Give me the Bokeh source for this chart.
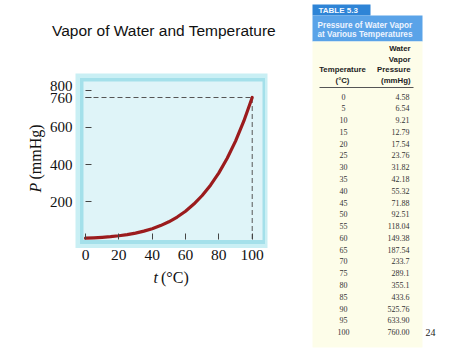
import math
from bokeh.plotting import figure
from bokeh.models import Range1d, LinearAxis, FixedTicker
from bokeh.core.properties import value
from bokeh.embed import file_html
from bokeh.resources import INLINE

# ---- data (from Table 5.3) ----
temps = [0, 5, 10, 15, 20, 25, 30, 35, 40, 45, 50, 55, 60, 65, 70, 75, 80, 85, 90, 95, 100]
pressure_labels = ["4.58", "6.54", "9.21", "12.79", "17.54", "23.76", "31.82", "42.18",
                   "55.32", "71.88", "92.51", "118.04", "149.38", "187.54", "233.7",
                   "289.1", "355.1", "433.6", "525.76", "633.90", "760.00"]
pressures = [float(s) for s in pressure_labels]
temp_labels = [str(t) for t in temps]

x_ticks = [0, 20, 40, 60, 80, 100]
y_ticks = [200, 400, 600, 760]
y_ticks_top = [800]

title_text = "Vapor of Water and Temperature"
table_tab = "TABLE 5.3"
table_caption = ["Pressure of Water Vapor", "at Various Temperatures"]
col1_head = ["Temperature", "(°C)"]
col2_head = ["Water", "Vapor", "Pressure", "(mmHg)"]
page_no = "24"

SERIF = value("Liberation Serif")
SANS = value("Liberation Sans")

p = figure(width=474, height=355, x_range=Range1d(-51.0, 233.35),
           y_range=Range1d(-625.7, 1281.0), output_backend="svg",
           toolbar_location=None, min_border=0, x_axis_type=None, y_axis_type=None)
p.outline_line_color = None
for g in p.grid:
    g.visible = False
p.background_fill_color = "white"
p.border_fill_color = "white"
p.extra_x_ranges = {"px": Range1d(0, 474)}
p.extra_y_ranges = {"px": Range1d(355, 0)}
PX = dict(x_range_name="px", y_range_name="px")

# plot box (decorative frame)
p.quad(left=[75, 79.5, 83], right=[267, 264.5, 262], top=[73, 77.5, 81], bottom=[247.5, 243.5, 239.5],
       fill_color=["#c9eff4", "#a4e0ea", "#dff4f8"], line_color=None, **PX)

# dashed guides at the end of the curve
p.line([temps[0], temps[-1]], [pressures[-1], pressures[-1]], line_color="#555555",
       line_width=1, line_dash="5 3")
p.line([temps[-1], temps[-1]], [0, pressures[-1]], line_color="#555555",
       line_width=1, line_dash="5 3")

# curve
p.line(temps, pressures, line_color="#9b1b1d", line_width=3.2, line_cap="round",
       line_join="round")

axis_style = dict(major_tick_in=6, major_tick_out=0, minor_tick_line_color=None,
                  axis_line_color=None, major_tick_line_color="#444444",
                  major_label_text_font="Liberation Serif",
                  major_label_text_color="#111111")

xaxis = LinearAxis(ticker=FixedTicker(ticks=x_ticks), fixed_location=0,
                   major_label_standoff=11, major_label_text_font_size="15.5px",
                   **axis_style)
p.add_layout(xaxis, "below")

yaxis = LinearAxis(ticker=FixedTicker(ticks=y_ticks + y_ticks_top), fixed_location=0,
                   major_label_standoff=13, major_label_text_font_size="15px",
                   major_label_overrides={800: ""}, **axis_style)
p.add_layout(yaxis, "left")
# the 800 label sits slightly above its tick (as in the original figure)
p.text(x=[0], y=y_ticks_top, text=[str(v) for v in y_ticks_top], x_offset=-13, y_offset=-4,
       text_font=SERIF, text_font_size="15px", text_align="right",
       text_baseline="middle", text_color="#111111")

# axis titles
p.text(x=[157.5], y=[277], text=["t"], text_font=SERIF, text_font_style="italic",
       text_font_size="16px", text_align="right", text_baseline="middle",
       text_color="#111111", **PX)
p.text(x=[160.5], y=[277], text=["(°C)"], text_font=SERIF, text_font_size="16px",
       text_align="left", text_baseline="middle", text_color="#111111", **PX)
p.text(x=[35], y=[192], text=["P"], text_font=SERIF, text_font_style="italic",
       text_font_size="16px", text_align="left", text_baseline="middle",
       angle=math.pi / 2, text_color="#111111", **PX)
p.text(x=[35], y=[179], text=["(mmHg)"], text_font=SERIF, text_font_size="16px",
       text_align="left", text_baseline="middle", angle=math.pi / 2,
       text_color="#111111", **PX)

# title
p.text(x=[163.5], y=[30], text=[title_text], text_font=SANS, text_font_size="15.5px",
       text_align="center", text_baseline="middle", text_color="#111111", **PX)

# ---- table ----
p.quad(left=[312], right=[370], top=[4], bottom=[15], fill_color="#2e84d6",
       line_color=None, **PX)
p.quad(left=[312], right=[422], top=[15], bottom=[41], fill_color="#5aa3e8",
       line_color=None, **PX)
p.quad(left=[312], right=[422], top=[41], bottom=[347], fill_color="#fdfde9",
       line_color=None, **PX)
p.text(x=[318], y=[10], text=[table_tab], text_font=SANS, text_font_style="bold",
       text_font_size="8px", text_align="left", text_baseline="middle",
       text_color="#f4f8ff", **PX)
p.text(x=[317, 317], y=[24.5, 34], text=table_caption, text_font=SANS,
       text_font_style="bold", text_font_size="8.2px", text_align="left",
       text_baseline="middle", text_color="#eef4ff", **PX)
p.text(x=[410] * 4, y=[48, 58.5, 69, 79.5], text=col2_head, text_font=SANS,
       text_font_style="bold", text_font_size="7.8px", text_align="right",
       text_baseline="middle", text_color="#222222", **PX)
p.text(x=[342, 342], y=[69, 79.5], text=col1_head, text_font=SANS,
       text_font_style="bold", text_font_size="7.8px", text_align="center",
       text_baseline="middle", text_color="#222222", **PX)
p.segment(x0=[319], x1=[413], y0=[87], y1=[87], line_color="#555555", line_width=1, **PX)

row_y = [96 + i * 11.78 for i in range(len(temps))]
p.text(x=[343] * len(temps), y=row_y, text=temp_labels, text_font=SERIF,
       text_font_size="8px", text_align="center", text_baseline="middle",
       text_color="#333333", **PX)
p.text(x=[409] * len(temps), y=row_y, text=pressure_labels, text_font=SERIF,
       text_font_size="8px", text_align="right", text_baseline="middle",
       text_color="#333333", **PX)

p.text(x=[425], y=[332], text=[page_no], text_font=SERIF, text_font_size="10px",
       text_align="left", text_baseline="middle", text_color="#222222", **PX)

open("out.html", "w").write(file_html(p, INLINE))
